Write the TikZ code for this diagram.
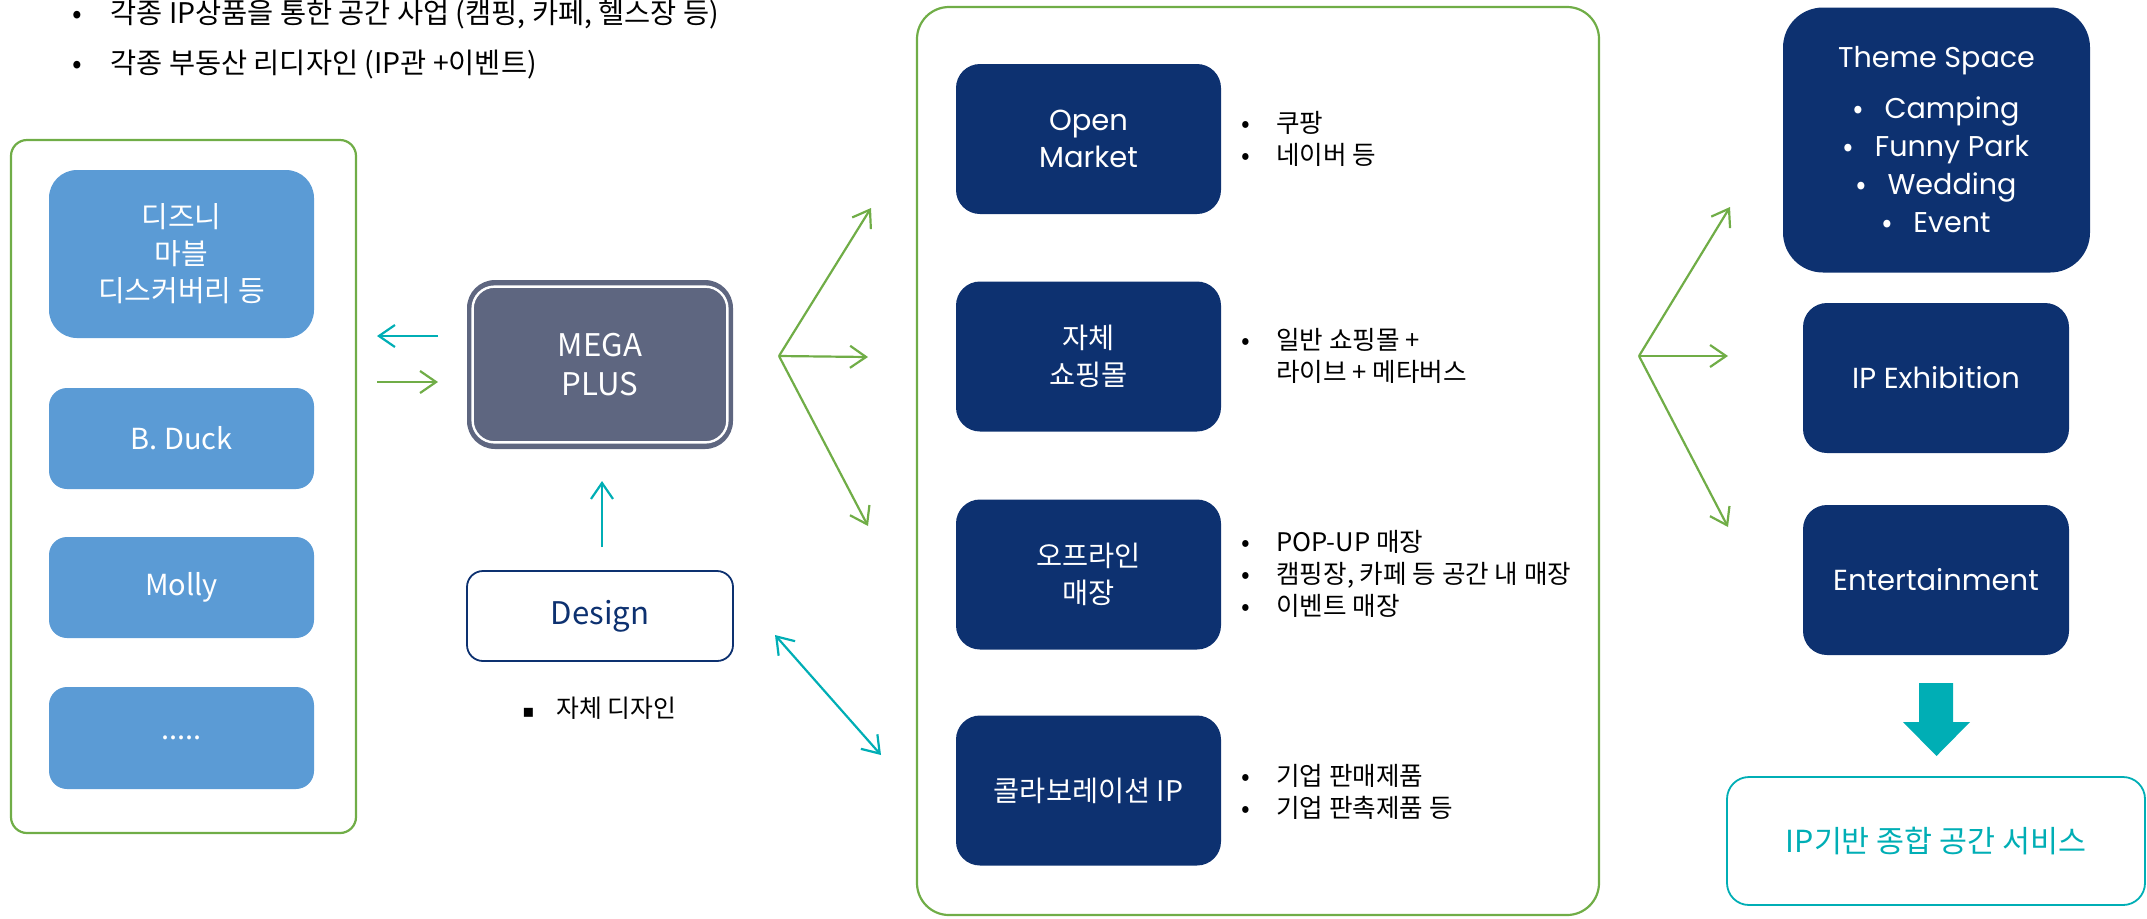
\documentclass[tikz,border=0pt]{standalone}
\usepackage{fontspec}
\setmainfont{Noto Sans CJK KR}
\newfontfamily\pop{Poppins}
\newfontfamily\djv{DejaVu Sans}
\usetikzlibrary{arrows.meta,calc}
\definecolor{lblue}{HTML}{5B9BD5}
\definecolor{navy}{HTML}{0D3170}
\definecolor{mgray}{HTML}{5E6680}
\definecolor{grn}{HTML}{70AD47}
\definecolor{tealc}{HTML}{00AEB5}
\newcommand\mybul{\makebox[17.5pt][l]{•}}
\newcommand\tsbul{\makebox[15.5pt][l]{\rmfamily •}}
\begin{document}
\begin{tikzpicture}[x=0.5pt,y=-0.5pt,
  frame/.style={draw=grn,line width=1.1pt,inner sep=0pt},
  lbox/.style={fill=lblue,text=white,align=center,inner sep=0pt,minimum width=132.5pt,font=\fontsize{14.5}{18.5}\selectfont},
  dbox/.style={fill=navy,text=white,align=center,inner sep=0pt,rounded corners=12pt,minimum width=132.5pt,minimum height=75pt},
  ko/.style={font=\fontsize{14.2}{18.5}\selectfont},
  lat/.style={font=\pop\fontsize{14.5}{18.5}\selectfont},
  blist/.style={anchor=west,align=left,inner sep=0pt,font=\fontsize{12.8}{16}\selectfont},
  garr/.style={draw=grn,line width=1.1pt,-{Straight Barb[length=8pt,width=11pt]}},
  carr/.style={draw=tealc,line width=1.1pt,-{Straight Barb[length=8pt,width=11pt]}},
  topline/.style={anchor=west,inner sep=0pt,font=\fontsize{14.2}{16}\selectfont}
]
\useasboundingbox (0,0) rectangle (2147,918);

% top text
\node[topline] (t1) at (72,15) {\makebox[19pt][l]{•}각종 IP상품을 통한 공간 사업 (캠핑, 카페, 헬스장 등)};
\node[topline] (t2) at (72,65) {\makebox[19pt][l]{•}각종 부동산 리디자인 (IP관 +이벤트)};

% frames
\node[frame,rounded corners=8pt,minimum width=172.5pt,minimum height=346.5pt] (lf) at (183.5,486.5) {};
\node[frame,rounded corners=16pt,minimum width=341pt,minimum height=454pt] (mf) at (1258,461) {};

% left IP boxes
\node[lbox,rounded corners=14pt,minimum height=84pt] (disney) at (181.5,254) {디즈니\\마블\\디스커버리 등};
\node[lbox,rounded corners=9pt,minimum height=50.5pt] (bduck) at (181.5,438.5) {B. Duck};
\node[lbox,rounded corners=9pt,minimum height=50.5pt] (molly) at (181.5,587.5) {Molly};
\node[lbox,rounded corners=9pt,minimum height=51pt] (etc) at (181.5,738) {.....};

% MEGA PLUS
\node[fill=mgray,rounded corners=14pt,minimum width=133pt,minimum height=84.5pt,text=white,align=center,inner sep=0pt,font=\fontsize{15.6}{19.5}\selectfont] (mega) at (600,364.5) {MEGA\\PLUS};
\draw[white,line width=1.2pt,rounded corners=11pt] ($(mega.north west)+(6,7)$) rectangle ($(mega.south east)+(-6,-7)$);

% Design
\node[draw=navy,line width=0.9pt,rounded corners=8pt,minimum width=133pt,minimum height=45pt,text=navy,inner sep=0pt,font=\fontsize{15.6}{18}\selectfont] (design) at (600,616) {Design};
\node[anchor=west,inner sep=0pt,font=\fontsize{12.4}{14}\selectfont] (selfd) at (522,708) {\makebox[17pt][l]{\djv\fontsize{9}{10}\selectfont ▪}자체 디자인};

% arrows left
\coordinate (a1s) at (438,336); \coordinate (a1e) at (377,336);
\draw[carr] (a1s) -- (a1e);
\coordinate (a2s) at (377,382); \coordinate (a2e) at (438,382);
\draw[garr] (a2s) -- (a2e);
\coordinate (u1) at (602,547); \coordinate (u2) at (602,481);
\draw[carr] (u1) -- (u2);
\coordinate (d1) at (775,635); \coordinate (d2) at (881,755);
\draw[draw=tealc,line width=1.1pt,{Straight Barb[length=8pt,width=11pt]}-{Straight Barb[length=8pt,width=11pt]}] (d1) -- (d2);

% fan 1
\coordinate (f1) at (779,356);
\coordinate (f1a) at (871,208); \coordinate (f1b) at (868,357); \coordinate (f1c) at (868,526);
\draw[garr] (f1) -- (f1a);
\draw[garr] (f1) -- (f1b);
\draw[garr] (f1) -- (f1c);

% channel boxes
\node[dbox,lat] (om) at (1088.5,139) {Open\\Market};
\node[dbox,ko] (sm) at (1088.5,356.5) {자체\\쇼핑몰};
\node[dbox,ko] (off) at (1088.5,574.5) {오프라인\\매장};
\node[dbox,ko] (col) at (1088.5,790.5) {콜라보레이션 IP};

\node[blist] (l1) at (1241,139) {\mybul 쿠팡\\\mybul 네이버 등};
\node[blist] (l2) at (1241,356) {\mybul 일반 쇼핑몰 +\\\hspace*{17.5pt}라이브 + 메타버스};
\node[blist] (l3) at (1241,573.5) {\mybul POP-UP 매장\\\mybul 캠핑장, 카페 등 공간 내 매장\\\mybul 이벤트 매장};
\node[blist] (l4) at (1241,792) {\mybul 기업 판매제품\\\mybul 기업 판촉제품 등};

% fan 2
\coordinate (f2) at (1639,356);
\coordinate (f2a) at (1730,207); \coordinate (f2b) at (1728,356); \coordinate (f2c) at (1728,527);
\draw[garr] (f2) -- (f2a);
\draw[garr] (f2) -- (f2b);
\draw[garr] (f2) -- (f2c);

% right boxes
\node[dbox,rounded corners=20pt,minimum width=153.5pt,minimum height=132.5pt,font=\pop\fontsize{14.3}{19}\selectfont] (ts) at (1936.5,140) {Theme Space\\[6.5pt]\tsbul Camping\\\tsbul Funny Park\\\tsbul Wedding\\\tsbul Event};
\node[dbox,lat,minimum width=133pt] (ipx) at (1936,378) {IP Exhibition};
\node[dbox,lat,minimum width=133pt] (ent) at (1936,580) {Entertainment};

\fill[tealc] (1919,683) -- (1953,683) -- (1953,722) -- (1970,722) -- (1936.5,756) -- (1903,722) -- (1919,722) -- cycle;

\node[draw=tealc,line width=0.9pt,rounded corners=11pt,minimum width=209pt,minimum height=64pt,text=tealc,inner sep=0pt,font=\fontsize{15.2}{18}\selectfont] (ipb) at (1936,841) {IP기반 종합 공간 서비스};
\end{tikzpicture}
\end{document}
